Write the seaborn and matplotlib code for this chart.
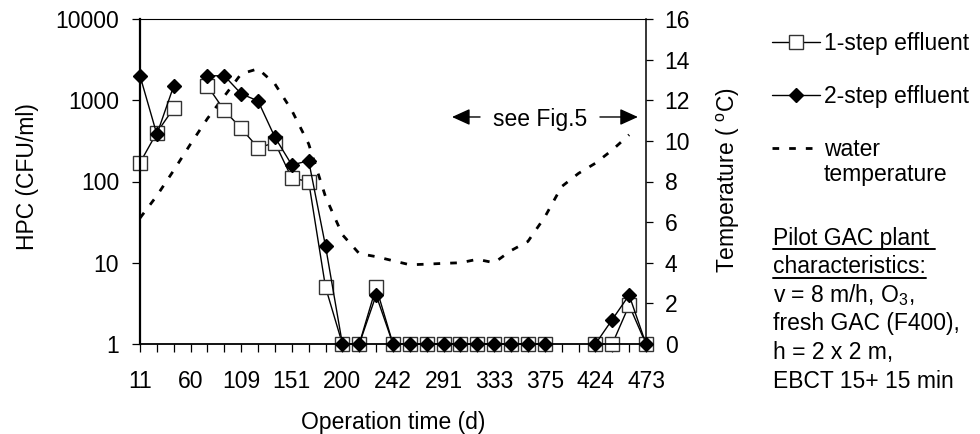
import matplotlib.pyplot as plt
from matplotlib.lines import Line2D
import numpy as np
import pandas as pd
import seaborn as sns

# ==============================
# DATA
# ==============================
# sampling days, only every third one is printed on the axis
days = [11, 27, 44, 60, 76, 93, 109, 123, 137, 151, 167, 184, 200, 214, 228,
        242, 258, 275, 291, 305, 319, 333, 347, 361, 375, 391, 408, 424, 440, 457, 473]
nan = np.nan
hpc_1step = [170, 400, 800, nan, 1500, 750, 450, 260, 300, 110, 100, 5, 1, 1, 5,
             1, 1, 1, 1, 1, 1, 1, 1, 1, 1, nan, nan, 1, 1, 3, 1]
hpc_2step = [2000, 380, 1500, nan, 2000, 2000, 1200, 980, 350, 160, 180, 16, 1, 1, 4,
             1, 1, 1, 1, 1, 1, 1, 1, 1, 1, nan, nan, 1, 2, 4, 1]
water_temp = [6.2, 7.3, 8.55, 9.85, 11.1, 12.2, 13.3, 13.55, 12.8, 11.5, 9.85, 7.25,
              5.38, 4.45, 4.3, 4.1, 3.9, 3.93, 3.97, 4.0, 4.17, 4.0, 4.6, 5.05, 6.25,
              7.75, 8.4, 8.9, 9.55, 10.3]
hpc_ticks = [1, 10, 100, 1000, 10000]
temp_ticks = list(range(0, 17, 2))

info_lines = ["Pilot GAC plant", "characteristics:", r"v = 8 m/h, O$_3$,",
              "fresh GAC (F400),", "h = 2 x 2 m,", "EBCT 15+ 15 min"]

# ==============================
# GLOBAL STYLE
# ==============================
sns.set_theme(style="ticks")
plt.rcParams["font.family"] = ["Liberation Sans", "DejaVu Sans"]
plt.rcParams["mathtext.fontset"] = "custom"
plt.rcParams["mathtext.rm"] = "Liberation Sans"
plt.rcParams["mathtext.it"] = "Liberation Sans:italic"
plt.rcParams["mathtext.bf"] = "Liberation Sans:bold"
plt.rcParams["text.color"] = "black"
plt.rcParams["axes.labelcolor"] = "black"
FS = 16.5

pos = np.arange(len(days))


def hpc_frame(values):
    s = pd.Series(values, dtype=float)
    # a new unit after every gap, so the lines break where data are missing
    return pd.DataFrame({"pos": pos, "hpc": s, "seg": s.isna().cumsum()})


fig = plt.figure(figsize=(9.8, 4.34), dpi=100)
ax = fig.add_axes([140 / 980, 1 - 344 / 434, 506 / 980, 325 / 434])
ax2 = ax.twinx()
ax.set_zorder(ax2.get_zorder() + 1)
ax.patch.set_visible(False)

ax.set_yscale("log")

# water temperature on the right axis
sns.lineplot(x=pos[:len(water_temp)], y=water_temp, ax=ax2, color="black",
             lw=2.0, linestyle=(0, (2.4, 3.6)), legend=False)

sq_style = dict(marker="s", ms=10, mfc="white", mec="#333333", mew=1.0)
di_style = dict(marker="D", ms=7.6, mfc="black", mec="black", mew=1.0)

sns.lineplot(data=hpc_frame(hpc_1step), x="pos", y="hpc", units="seg", estimator=None,
             color="black", lw=1.0, clip_on=False, ax=ax, legend=False, **sq_style)
sns.lineplot(data=hpc_frame(hpc_2step), x="pos", y="hpc", units="seg", estimator=None,
             color="black", lw=1.0, clip_on=False, ax=ax, legend=False, **di_style)

# axes
ax.set_xlim(0, len(days) - 1)
ax.set_ylim(1, 10000)
ax.set_xticks(pos, labels=[str(d) if i % 3 == 0 else "" for i, d in enumerate(days)])
ax.set_yticks(hpc_ticks, labels=[str(t) for t in hpc_ticks])
ax.yaxis.set_minor_locator(plt.NullLocator())
ax2.set_ylim(0, 16)
ax2.set_yticks(temp_ticks, labels=[str(t) for t in temp_ticks])

ax.tick_params(axis="x", direction="out", length=5.5, width=0.9, colors="black",
               labelsize=FS, pad=13.5)
ax.tick_params(axis="y", direction="out", length=5.5, width=0.9, colors="black",
               labelsize=FS, pad=9.5)
ax2.tick_params(axis="y", direction="out", length=5.0, width=0.9, colors="black",
                labelsize=FS, pad=8.5)

for side, lw in [("left", 1.6), ("bottom", 1.3), ("top", 0.8)]:
    ax.spines[side].set_linewidth(lw)
    ax.spines[side].set_color("black")
ax.spines["right"].set_visible(False)
for side in ["left", "bottom", "top"]:
    ax2.spines[side].set_visible(False)
ax2.spines["right"].set_linewidth(1.1)
ax2.spines["right"].set_color("black")

ax.set_xlabel("Operation time (d)", fontsize=FS)
ax.set_ylabel("HPC (CFU/ml)", fontsize=FS)
ax2.set_ylabel(r"Temperature ( $^{\mathrm{o}}$C)", fontsize=FS)
ax.xaxis.set_label_coords(0.5, -0.205)
ax.yaxis.set_label_coords(-0.2, 0.515)
ax2.yaxis.set_label_coords(1.135, 0.505)

# "see Fig.5" with arrows
ax.text(0.7905, 0.6717, "see Fig.5", transform=ax.transAxes, ha="center",
        va="baseline", fontsize=FS)
arrow = dict(arrowstyle="-|>,head_length=1.1,head_width=0.5", mutation_scale=10,
             color="black", lw=1.0, shrinkA=0, shrinkB=0)
ax.annotate("", xy=(0.6166, 0.6985), xytext=(0.672, 0.6985),
            xycoords="axes fraction", textcoords="axes fraction", arrowprops=arrow)
ax.annotate("", xy=(0.984, 0.6985), xytext=(0.909, 0.6985),
            xycoords="axes fraction", textcoords="axes fraction", arrowprops=arrow)

# legend
handles = [
    Line2D([], [], color="black", lw=1.0, **sq_style),
    Line2D([], [], color="black", lw=1.0, **di_style),
    Line2D([], [], color="black", lw=2.0, linestyle=(0, (2.4, 3.6))),
]
leg = ax.legend(handles=handles, labels=["1-step effluent", "2-step effluent", "water"],
                loc="upper left", bbox_to_anchor=(772 / 980, 1 - 32 / 434),
                bbox_transform=fig.transFigure, frameon=False, fontsize=FS,
                handlelength=2.1, handletextpad=0.15, labelspacing=1.3,
                borderpad=0, borderaxespad=0)

# plant characteristics block
info_texts = []
for k, line in enumerate(info_lines):
    t = fig.text(773 / 980, 1 - (244.5 + 28.6 * k) / 434, line, ha="left",
                 va="baseline", fontsize=FS)
    info_texts.append(t)

fig.canvas.draw()
inv = fig.transFigure.inverted()

# second line of the legend label, just below "water"
wt = leg.get_texts()[2]
wb = wt.get_window_extent()
x_leg = inv.transform((wb.x0, 0))[0]
y_leg = inv.transform((0, wb.y0 - 25))[1]
fig.text(x_leg, y_leg, "temperature", ha="left", va="bottom", fontsize=FS)

# underline the heading lines
for t, extra in zip(info_texts[:2], [6, 0]):
    bb = t.get_window_extent()
    y_base = t.get_position()[1] * fig.bbox.height - 4.5
    (x0, y0), (x1, _) = inv.transform([(bb.x0, y_base), (bb.x1 + extra, y_base)])
    fig.add_artist(Line2D([x0, x1], [y0, y0], color="black", lw=1.4,
                          transform=fig.transFigure))

fig.savefig("out.png", dpi=100)
